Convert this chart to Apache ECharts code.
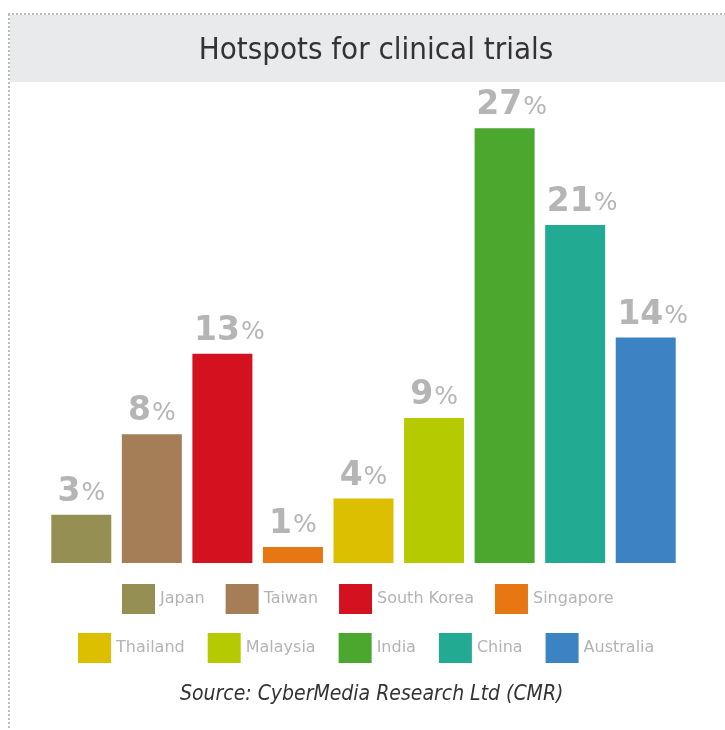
<!DOCTYPE html>
<html>
<head>
<meta charset="utf-8">
<script src="https://cdn.jsdelivr.net/npm/echarts@6/dist/echarts.min.js"></script>
<style>
  html, body { margin: 0; padding: 0; background: #fff; }
  #chart { width: 725px; height: 730px; }
</style>
</head>
<body>
<div id="chart"></div>
<script>
  // countries and their share of clinical trials (%)
  const countries = ['Japan', 'Taiwan', 'South Korea', 'Singapore', 'Thailand', 'Malaysia', 'India', 'China', 'Australia'];
  const shares = [3, 8, 13, 1, 4, 9, 27, 21, 14];
  const colors = ['#968f54', '#a57d57', '#d4121f', '#e67713', '#dcbf00', '#b6ca00', '#4ba72e', '#22aa92', '#3c83c3'];
  const legendRow1 = ['Japan', 'Taiwan', 'South Korea', 'Singapore'];
  const legendRow2 = ['Thailand', 'Malaysia', 'India', 'China', 'Australia'];

  const chart = echarts.init(document.getElementById('chart'));

  // one series per country, stacked so every bar gets the full slot width
  const series = countries.map((name, i) => ({
    name: name,
    type: 'bar',
    stack: 'all',
    barWidth: 60,
    itemStyle: { color: colors[i] },
    label: {
      show: true,
      position: 'top',
      distance: 6,
      // two-digit labels sit a bit to the right in the original
      offset: [String(shares[i]).length > 1 ? 7 : 0, 0],
      formatter: p => '{n|' + p.value + '}{p|%}',
      rich: {
        n: { fontSize: 33, fontWeight: 'bold', color: '#b5b5b5', fontFamily: 'DejaVu Sans' },
        p: { fontSize: 25, color: '#b5b5b5', fontFamily: 'DejaVu Sans', padding: [3, 0, 0, 1] }
      }
    },
    data: countries.map((c, j) => (j === i ? shares[i] : '-'))
  }));

  const legendBase = {
    icon: 'rect',
    itemWidth: 33,
    itemHeight: 30,
    padding: 0,
    selectedMode: false,
    textStyle: { color: '#b3b3b3', fontSize: 16, fontFamily: 'DejaVu Sans' }
  };

  chart.setOption({
    backgroundColor: '#fff',
    animation: false,
    title: {
      text: 'Hotspots for clinical trials',
      left: 371,
      textAlign: 'center',
      top: 30,
      textStyle: { fontSize: 31, fontWeight: 'normal', color: '#333', fontFamily: 'DejaVu Sans Condensed' }
    },
    graphic: [
      { type: 'rect', z: -10, shape: { x: 10, y: 15, width: 715, height: 67 }, style: { fill: '#e9eaec' } },
      { type: 'line', shape: { x1: 8, y1: 14, x2: 725, y2: 14 }, style: { stroke: '#bbb', lineWidth: 2, lineDash: [2, 2] } },
      { type: 'line', shape: { x1: 9, y1: 14, x2: 9, y2: 730 }, style: { stroke: '#bbb', lineWidth: 2, lineDash: [2, 2] } },
      {
        type: 'text', left: 180, top: 684,
        style: { text: 'Source: CyberMedia Research Ltd (CMR)', fontSize: 21, fontStyle: 'italic', fill: '#333', fontFamily: 'DejaVu Sans Condensed' }
      }
    ],
    legend: [
      Object.assign({}, legendBase, { data: legendRow1, left: 122, top: 584, itemGap: 21 }),
      Object.assign({}, legendBase, { data: legendRow2, left: 78, top: 633, itemGap: 23 })
    ],
    grid: { left: 46, right: 44, top: 80, bottom: 167 },
    xAxis: {
      type: 'category',
      data: countries,
      axisLine: { show: false },
      axisTick: { show: false },
      axisLabel: { show: false }
    },
    yAxis: {
      type: 'value',
      min: 0,
      max: 30,
      show: false,
      splitLine: { show: false }
    },
    series: series
  });
</script>
</body>
</html>
